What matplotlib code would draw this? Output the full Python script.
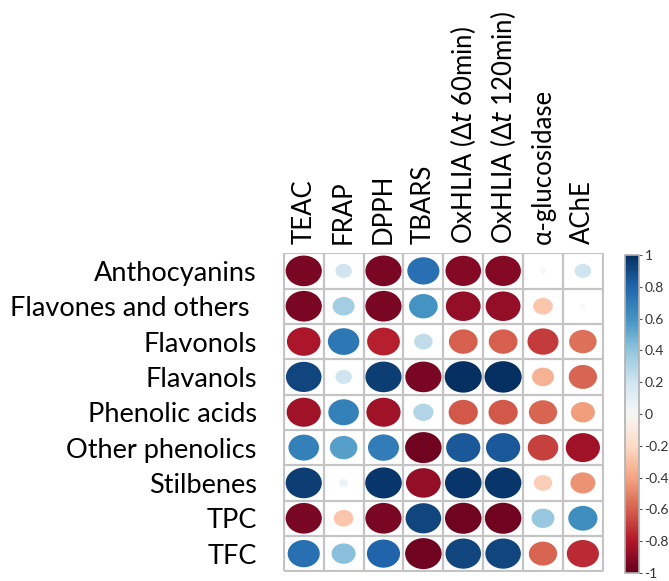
import numpy as np
import matplotlib
matplotlib.use("Agg")
import matplotlib.pyplot as plt
from matplotlib.patches import Ellipse
from matplotlib.colors import Normalize
from matplotlib.cm import ScalarMappable

# Datos de correlación (filas: compuestos, columnas: ensayos)
rows = ["Anthocyanins", "Flavones and others ", "Flavonols", "Flavanols",
        "Phenolic acids", "Other phenolics", "Stilbenes", "TPC", "TFC"]
cols = ["TEAC", "FRAP", "DPPH", "TBARS",
        r"OxHLIA (Δ$t$ 60min)", r"OxHLIA (Δ$t$ 120min)",
        "α-glucosidase", "AChE"]

anthocyanins = [-0.95, 0.20, -0.95, 0.75, -0.92, -0.92, 0.02, 0.20]
flavones = [-0.95, 0.35, -0.95, 0.60, -0.88, -0.88, -0.28, 0.02]
flavonols = [-0.82, 0.72, -0.78, 0.25, -0.60, -0.60, -0.70, -0.55]
flavanols = [0.92, 0.20, 0.95, -0.95, 1.00, 1.00, -0.35, -0.58]
phenolic_acids = [-0.85, 0.68, -0.85, 0.30, -0.62, -0.62, -0.58, -0.42]
other_phenolics = [0.68, 0.55, 0.70, -0.97, 0.85, 0.85, -0.68, -0.85]
stilbenes = [0.95, 0.06, 0.97, -0.88, 0.97, 0.97, -0.25, -0.45]
tpc = [-0.95, -0.28, -0.95, 0.92, -0.97, -0.97, 0.38, 0.62]
tfc = [0.75, 0.42, 0.80, -0.97, 0.92, 0.92, -0.58, -0.75]

corr = np.array([anthocyanins, flavones, flavonols, flavanols, phenolic_acids,
                 other_phenolics, stilbenes, tpc, tfc])

plt.rcParams['font.family'] = ['Lato', 'DejaVu Sans']
plt.rcParams['mathtext.fontset'] = 'dejavusans'

fig = plt.figure(figsize=(6.69, 5.81), dpi=100)
ax = fig.add_axes([283 / 669, 1 - 572 / 581, 320.6 / 669, 319.5 / 581])

cmap = plt.get_cmap('RdBu')
norm = Normalize(-1, 1)
nr, nc = corr.shape

for i in range(nr):
    for j in range(nc):
        r = corr[i, j]
        s = np.sqrt(abs(r))
        ax.add_patch(Ellipse((j + 0.5, i + 0.5), 0.93 * s, 0.89 * s,
                             facecolor=cmap(norm(r)), edgecolor='none'))

grid_color = '#c4c4c4'
ax.hlines(np.arange(nr + 1), 0, nc, color=grid_color, lw=1.6, zorder=0)
ax.vlines(np.arange(nc + 1), 0, nr, color=grid_color, lw=1.6, zorder=0)

ax.set_xlim(-0.02, nc + 0.02)
ax.set_ylim(nr + 0.02, -0.02)
for sp in ax.spines.values():
    sp.set_visible(False)

ax.xaxis.tick_top()
ax.set_xticks(np.arange(nc) + 0.5)
ax.set_xticklabels(cols, rotation=90, fontsize=18.5, va='bottom', ha='center')
ax.set_yticks(np.arange(nr) + 0.5)
ax.set_yticklabels(rows, fontsize=19.5)
ax.tick_params(axis='x', length=0, pad=6)
ax.tick_params(axis='y', length=0, pad=19)

# Barra de colores
cax = fig.add_axes([625 / 669, 1 - 573 / 581, 14 / 669, 318 / 581])
cb = fig.colorbar(ScalarMappable(norm=norm, cmap=cmap), cax=cax)
ticks = np.round(np.arange(-1, 1.01, 0.2), 1)
cb.set_ticks(ticks)
cb.set_ticklabels(['-1' if t == -1 else '1' if t == 1 else '0' if t == 0
                   else f'{t:g}'.replace('\u2212', '-') for t in ticks])
cb.outline.set_edgecolor('#b0b0b0')
cb.outline.set_linewidth(1.2)
cax.tick_params(labelsize=10, length=2.5, width=0.8, color='#555555',
                labelcolor='#333333', pad=1.5)

fig.savefig('out.png', dpi=100)
